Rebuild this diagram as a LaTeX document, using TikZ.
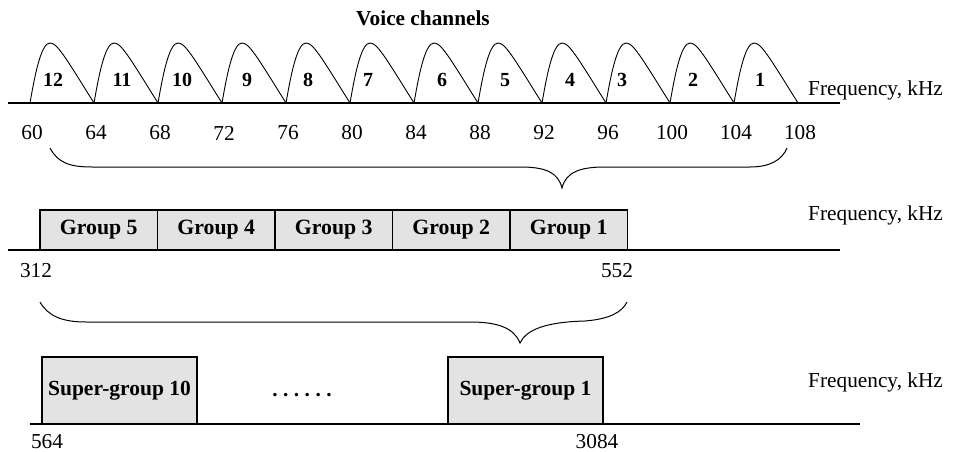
\documentclass[tikz,border=0pt]{standalone}
\usepackage{fontspec}
\setmainfont{Liberation Serif}
\begin{document}
\begin{tikzpicture}[x=1pt,y=-1pt,
  txt/.style={inner sep=0pt,font=\fontsize{21.3}{24}\selectfont},
  btxt/.style={inner sep=0pt,font=\fontsize{21.3}{24}\selectfont\bfseries},
  chlab/.style={inner sep=0pt,font=\fontsize{20}{23}\selectfont\bfseries},
  axis/.style={line width=1.3pt},
  hump/.style={line width=0.9pt},
  brc/.style={line width=1pt},
  grp/.style={draw,line width=1.4pt,fill=black!11,inner sep=0pt,minimum height=40pt,
              font=\fontsize{21.8}{24}\selectfont\bfseries},
  sgrp/.style={draw,line width=1.4pt,fill=black!11,inner sep=0pt,minimum height=67pt,
              font=\fontsize{21.5}{24}\selectfont\bfseries}]
\useasboundingbox (0,0) rectangle (955,452);

% ---------- voice channels ----------
\node[btxt] (title) at (423,18) {Voice channels};
\coordinate (ax1s) at (8,103);
\coordinate (ax1e) at (840,103);
\draw[axis] (ax1s) -- (ax1e);
\node[txt,anchor=west] (f1) at (808,90) {Frequency, kHz};

\foreach \i/\lab/\off in {0/12/23,1/11/28,2/10/24,3/9/25,4/8/22,5/7/18,6/6/28,7/5/27,8/4/28,9/3/16,10/2/23,11/1/26}{
  \pgfmathsetmacro{\b}{30+64*\i}
  \draw[hump] (\b,103) .. controls (\b+6,68) and (\b+12,43) .. (\b+20,43)
              .. controls (\b+27,43) and (\b+34,55) .. (\b+64,103);
  \node[chlab] (ch\lab) at (\b+\off,80) {\lab};
}
\foreach \i/\f in {0/60,1/64,2/68,3/72,4/76,5/80,6/84,7/88,8/92,9/96,10/100,11/104,12/108}{
  \pgfmathsetmacro{\b}{30+64*\i}
  \node[txt] (t\f) at (\b+2,133) {\f};
}

% brace 1
\coordinate (b1l) at (50,148);
\coordinate (b1t) at (562,188);
\coordinate (b1r) at (787,148);
\draw[brc] (b1l) .. controls (58,163) and (70,167) .. (92,167) -- (520,167)
   .. controls (545,167) and (558,172) .. (b1t)
   .. controls (566,172) and (580,167) .. (605,167) -- (750,167)
   .. controls (770,167) and (782,160) .. (b1r);

% ---------- groups ----------
\coordinate (ax2s) at (8,250);
\coordinate (ax2e) at (840,250);
\draw[axis] (ax2s) -- (ax2e);
\node[grp,minimum width=117.5pt] (g5) at (98.75,230) {Group 5};
\node[grp,minimum width=117.5pt] (g4) at (216.25,230) {Group 4};
\node[grp,minimum width=117.5pt] (g3) at (333.75,230) {Group 3};
\node[grp,minimum width=117.5pt] (g2) at (451.25,230) {Group 2};
\node[grp,minimum width=117.5pt] (g1) at (568.75,230) {Group 1};
\node[txt,anchor=west] (f2) at (808,215) {Frequency, kHz};
\node[txt] (t312) at (36,271) {312};
\node[txt] (t552) at (617,271) {552};

% brace 2
\coordinate (b2l) at (40,302);
\coordinate (b2t) at (520,343);
\coordinate (b2r) at (627,302);
\draw[brc] (b2l) .. controls (48,316) and (62,322) .. (86,322) -- (470,322)
   .. controls (498,322) and (514,328) .. (b2t)
   .. controls (526,330) and (545,322) .. (585,321)
   .. controls (610,319) and (622,312) .. (b2r);

% ---------- super groups ----------
\coordinate (ax3s) at (30,424);
\coordinate (ax3e) at (860,424);
\draw[axis] (ax3s) -- (ax3e);
\node[sgrp,minimum width=155pt] (sg10) at (119.5,390.5) {Super-group 10};
\node[sgrp,minimum width=155pt] (sg1) at (525.5,390.5) {Super-group 1};
\node[btxt,anchor=base] (dots) at (302,396) {.\hspace{5.5pt}.\hspace{5.5pt}.\hspace{5.5pt}.\hspace{5.5pt}.\hspace{5.5pt}.};
\node[txt,anchor=west] (f3) at (808,382) {Frequency, kHz};
\node[txt] (t564) at (47,442) {564};
\node[txt] (t3084) at (597,442) {3084};
\end{tikzpicture}
\end{document}
